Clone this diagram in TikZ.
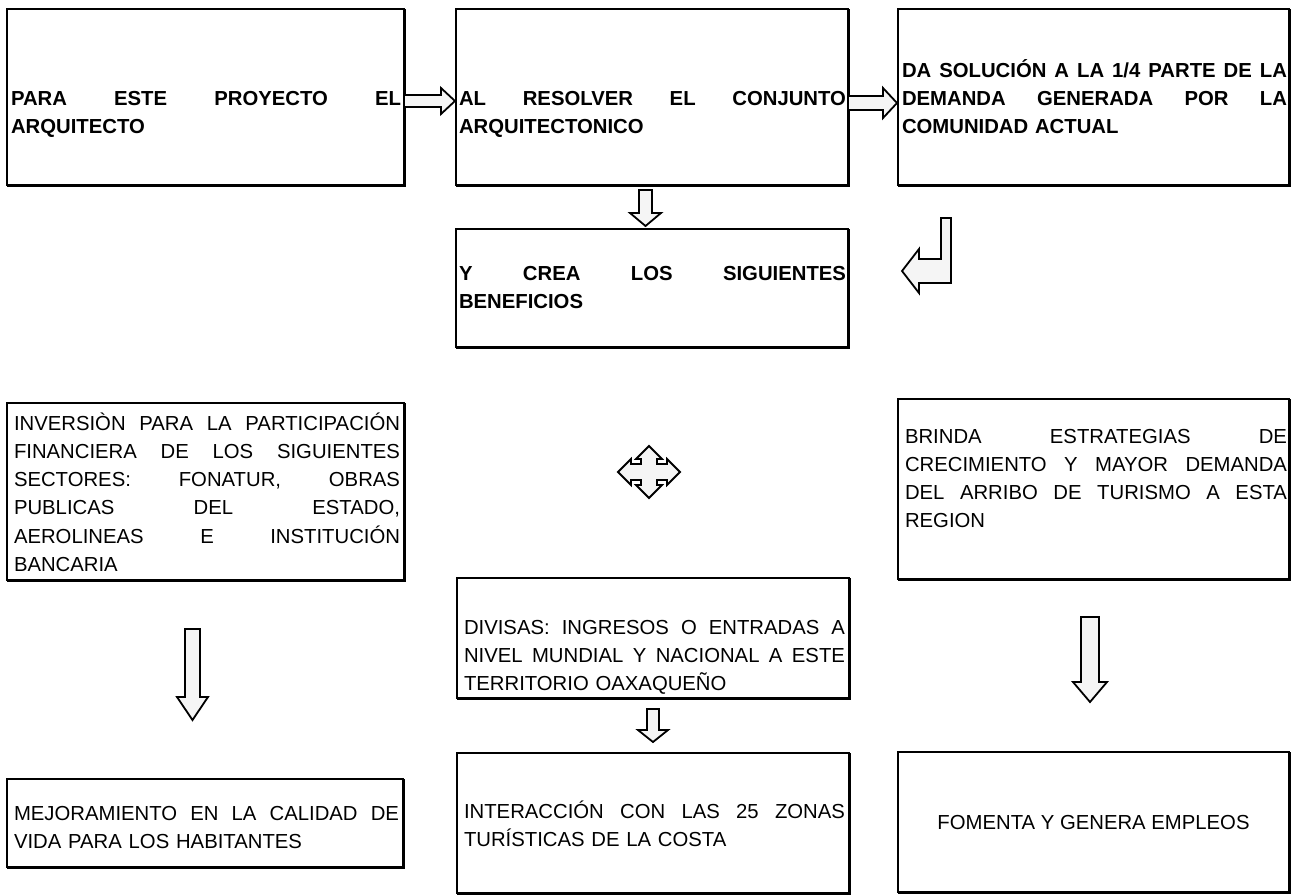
\documentclass[tikz,border=0pt]{standalone}
\usepackage{fontspec}
\setmainfont{Liberation Sans}
\newcommand{\jl}[2]{\hbox to #1{#2}\par}
\begin{document}
\begin{tikzpicture}[x=1pt,y=-1pt,
  box/.style={draw, line width=2.2pt, inner sep=0pt, outer sep=0pt, anchor=north west},
  txt/.style={inner sep=0pt, outer sep=0pt, anchor=base west, font=\fontsize{20.3pt}{28.3pt}\selectfont},
  btxt/.style={txt, font=\fontsize{20.3pt}{28.3pt}\selectfont\bfseries},
  barrow/.style={draw, line width=1.8pt, fill=gray!8, line join=miter}]
\useasboundingbox (0,0) rectangle (1292,895);
% boxes
\node[box, minimum width=397, minimum height=176] (b1) at (7,9) {};
\node[box, minimum width=392, minimum height=176] (b2) at (456,9) {};
\node[box, minimum width=391, minimum height=176] (b3) at (898,9) {};
\node[box, minimum width=392, minimum height=118] (b4) at (456,229) {};
\node[box, minimum width=397, minimum height=177] (b5) at (7,403) {};
\node[box, minimum width=391, minimum height=180] (b6) at (898,399) {};
\node[box, minimum width=392, minimum height=120] (b7) at (457,578) {};
\node[box, minimum width=396, minimum height=88] (b8) at (7,779) {};
\node[box, minimum width=392, minimum height=140] (b9) at (457,753) {};
\node[box, minimum width=391, minimum height=140] (b10) at (898,752) {};
\foreach \n in {b1,b2,b3,b4,b5,b6,b7,b8,b9,b10}{
  \draw[line width=1.4pt] ([shift={(1.4pt,0pt)}]\n.north east) -- ([shift={(1.4pt,-1.4pt)}]\n.south east) -- ([shift={(0pt,-1.4pt)}]\n.south west);
}
% texts
\node[btxt, text width=390pt] (t1) at (11,105) {\jl{390pt}{PARA\hfill ESTE\hfill PROYECTO\hfill EL}ARQUITECTO};
\node[btxt, text width=387pt] (t2) at (459,105) {\jl{387pt}{AL\hfill RESOLVER\hfill EL\hfill CONJUNTO}ARQUITECTONICO};
\node[btxt, text width=385pt] (t3) at (902,77) {\jl{385pt}{DA\hfill SOLUCIÓN\hfill A\hfill LA\hfill 1/4\hfill PARTE\hfill DE\hfill LA}\jl{385pt}{DEMANDA\hfill GENERADA\hfill POR\hfill LA}COMUNIDAD ACTUAL};
\node[btxt, text width=387pt] (t4) at (459,280) {\jl{387pt}{Y\hfill CREA\hfill LOS\hfill SIGUIENTES}BENEFICIOS};
\node[txt, text width=386pt] (t5) at (14,430) {\jl{386pt}{INVERSIÒN\hfill PARA\hfill LA\hfill PARTICIPACIÓN}\jl{386pt}{FINANCIERA\hfill DE\hfill LOS\hfill SIGUIENTES}\jl{386pt}{SECTORES:\hfill FONATUR,\hfill OBRAS}\jl{386pt}{PUBLICAS\hfill DEL\hfill ESTADO,}\jl{386pt}{AEROLINEAS\hfill E\hfill INSTITUCIÓN}BANCARIA};
\node[txt, text width=382pt] (t6) at (905,443) {\jl{382pt}{BRINDA\hfill ESTRATEGIAS\hfill DE}\jl{382pt}{CRECIMIENTO\hfill Y\hfill MAYOR\hfill DEMANDA}\jl{382pt}{DEL\hfill ARRIBO\hfill DE\hfill TURISMO\hfill A\hfill ESTA}REGION};
\node[txt, text width=381pt] (t7) at (464,634) {\jl{381pt}{DIVISAS:\hfill INGRESOS\hfill O\hfill ENTRADAS\hfill A}\jl{381pt}{NIVEL\hfill MUNDIAL\hfill Y\hfill NACIONAL\hfill A\hfill ESTE}TERRITORIO OAXAQUEÑO};
\node[txt, text width=385pt] (t8) at (14,820) {\jl{385pt}{MEJORAMIENTO\hfill EN\hfill LA\hfill CALIDAD\hfill DE}VIDA PARA LOS HABITANTES};
\node[txt, text width=381pt] (t9) at (464,818) {\jl{381pt}{INTERACCIÓN\hfill CON\hfill LAS\hfill 25\hfill ZONAS}TURÍSTICAS DE LA COSTA};
\node[txt, anchor=base] (t10) at (1093.5,829) {FOMENTA Y GENERA EMPLEOS};
% block arrows
% b1 -> b2
\draw[barrow] (404,95) -- (441,95) -- (441,88) -- (455,101) -- (441,114) -- (441,107) -- (404,107) -- cycle;
% b2 -> b3
\draw[barrow] (848,96) -- (883,96) -- (883,88) -- (897,103) -- (883,118) -- (883,110) -- (848,110) -- cycle;
% b2 -> b4
\draw[barrow] (639,190) -- (652,190) -- (652,213) -- (661,213) -- (645.5,226) -- (630,213) -- (639,213) -- cycle;
% bent arrow b3 -> b4
\draw[barrow] (951,218) -- (951,283) -- (919,283) -- (919,293) -- (902,271) -- (919,249) -- (919,259) -- (941,259) -- (941,218) -- cycle;
% four-way arrow
\draw[barrow] (649,446) -- (662,459) -- (657,459) -- (657,464) -- (667,464) -- (667,459) -- (680,472) -- (667,485) -- (667,480) -- (657,480) -- (657,485) -- (662,485) -- (649,498) -- (636,485) -- (641,485) -- (641,480) -- (631,480) -- (631,485) -- (618,472) -- (631,459) -- (631,464) -- (641,464) -- (641,459) -- (636,459) -- cycle;
% b5 -> b8
\draw[barrow] (185,629) -- (200,629) -- (200,697) -- (208,697) -- (192.5,720) -- (177,697) -- (185,697) -- cycle;
% b6 -> b10
\draw[barrow] (1081,617) -- (1099,617) -- (1099,682) -- (1107,682) -- (1090,702) -- (1073,682) -- (1081,682) -- cycle;
% b7 -> b9
\draw[barrow] (647,709) -- (659,709) -- (659,730) -- (668,730) -- (653,742) -- (638,730) -- (647,730) -- cycle;
\end{tikzpicture}
\end{document}
